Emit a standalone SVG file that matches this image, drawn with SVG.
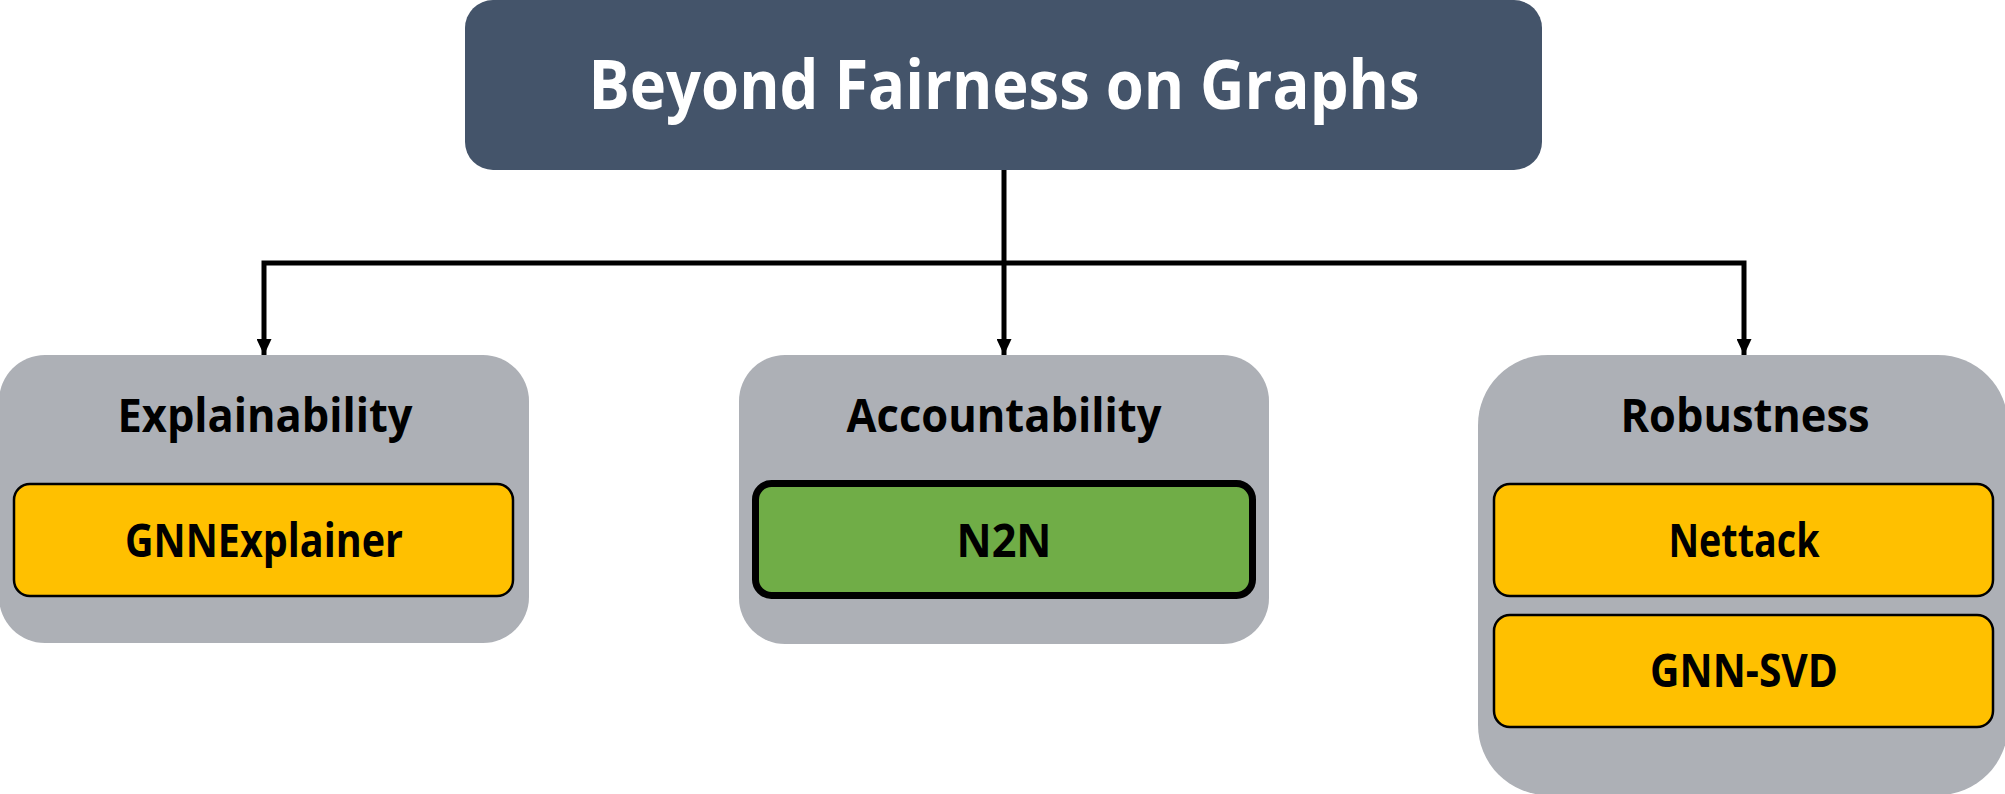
<svg xmlns="http://www.w3.org/2000/svg" width="2005" height="794" viewBox="0 0 2005 794">
<style>
  .title { font-family: "Open Sans", "Liberation Sans", sans-serif; font-weight: 700; font-size: 68px; fill: #FFFFFF; text-anchor: middle; }
  .lbl { font-family: "Open Sans", "Liberation Sans", sans-serif; font-weight: 700; font-size: 46px; fill: #000000; text-anchor: middle; }
  .cat { fill: #ADB0B6; }
  .item { fill: #FFC000; stroke: #000000; stroke-width: 2.5; }
  .item-g { fill: #70AD47; stroke: #000000; stroke-width: 7; }
  .conn { fill: none; stroke: #000000; stroke-width: 5; stroke-linejoin: miter; marker-end: url(#arrow); }
</style>
<defs>
  <marker id="arrow" viewBox="0 0 16 15" refX="16" refY="7.5" markerWidth="16" markerHeight="15" markerUnits="userSpaceOnUse" orient="auto">
    <path d="M0,0 L16,7.5 L0,15 Z" fill="#000000"/>
  </marker>
</defs>
<rect width="2005" height="794" fill="#FFFFFF"/>

<g id="connectors">
  <path class="conn" d="M1004,170 V355"/>
  <path class="conn" d="M1004,263 H264 V355"/>
  <path class="conn" d="M1004,263 H1744 V355"/>
</g>

<g id="root">
  <rect x="465" y="0" width="1077" height="170" rx="28" ry="28" fill="#44546A"/>
  <text class="title" x="1004" y="109" textLength="831" lengthAdjust="spacingAndGlyphs">Beyond Fairness on Graphs</text>
</g>

<g id="explainability">
  <rect class="cat" x="-1" y="355" width="530" height="288" rx="46" ry="46"/>
  <text class="lbl" x="265" y="432" textLength="295" lengthAdjust="spacingAndGlyphs">Explainability</text>
</g>
<g id="gnnexplainer">
  <rect class="item" x="14" y="484" width="499" height="112" rx="16" ry="16"/>
  <text class="lbl" x="264" y="557" textLength="278" lengthAdjust="spacingAndGlyphs">GNNExplainer</text>
</g>

<g id="accountability">
  <rect class="cat" x="739" y="355" width="530" height="289" rx="46" ry="46"/>
  <text class="lbl" x="1004" y="432" textLength="315" lengthAdjust="spacingAndGlyphs">Accountability</text>
</g>
<g id="n2n">
  <rect class="item-g" x="755.5" y="483.5" width="497" height="112" rx="16" ry="16"/>
  <text class="lbl" x="1004" y="557" textLength="95" lengthAdjust="spacingAndGlyphs">N2N</text>
</g>

<g id="robustness">
  <rect class="cat" x="1478" y="355" width="530" height="440" rx="70" ry="70"/>
  <text class="lbl" x="1745" y="432" textLength="249" lengthAdjust="spacingAndGlyphs">Robustness</text>
</g>
<g id="nettack">
  <rect class="item" x="1494" y="484" width="499" height="112" rx="16" ry="16"/>
  <text class="lbl" x="1744" y="557" textLength="151" lengthAdjust="spacingAndGlyphs">Nettack</text>
</g>
<g id="gnn-svd">
  <rect class="item" x="1494" y="615" width="499" height="112" rx="16" ry="16"/>
  <text class="lbl" x="1744" y="687" textLength="188" lengthAdjust="spacingAndGlyphs">GNN-SVD</text>
</g>
</svg>
